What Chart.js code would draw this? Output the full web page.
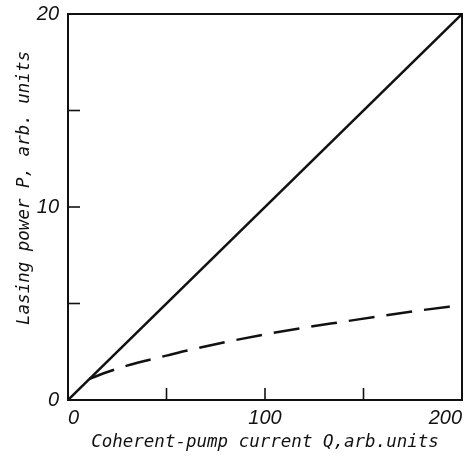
<!DOCTYPE html>
<html>
<head>
<meta charset="utf-8">
<script src="https://cdn.jsdelivr.net/npm/chart.js@4"></script>
<style>
  html, body { margin: 0; padding: 0; background: #fff; }
  #wrap { width: 470px; height: 458px; }
</style>
</head>
<body>
<div id="wrap"><canvas id="myChart" width="470" height="458"></canvas></div>
<script>
// Straight line (solid)
const qSolid = [0, 200];
const pSolid = [0, 20];

// Dashed curve, values
const qDashed = [11, 20, 30, 40, 50, 60, 80, 100, 120, 140, 160, 180, 200];
const pDashed = [1.1, 1.45, 1.78, 2.05, 2.3, 2.55, 3.0, 3.4, 3.75, 4.06, 4.37, 4.66, 4.92];

const xTitle = 'Coherent-pump current Q,arb.units';
const yTitle = 'Lasing power P, arb. units';

const ink = '#111';
const tickFont = { family: '"Liberation Sans", sans-serif', size: 20, style: 'italic' };
const titleFont = 'italic 17.5px "DejaVu Sans Mono", monospace';

// Cadre, graduations vers l'intérieur et titres des axes
const framePlugin = {
    id: 'frame',
    afterDatasetsDraw(chart) {
        const ctx = chart.ctx;
        const a = chart.chartArea;
        ctx.save();
        ctx.strokeStyle = ink;
        ctx.lineWidth = 2;
        ctx.strokeRect(a.left, a.top, a.right - a.left, a.bottom - a.top);

        ctx.lineWidth = 1.6;
        const xs = chart.scales.x;
        xs.ticks.forEach(t => {
            const px = xs.getPixelForValue(t.value);
            if (px <= a.left + 1 || px >= a.right - 1) return;
            ctx.beginPath();
            ctx.moveTo(px, a.bottom);
            ctx.lineTo(px, a.bottom - 12);
            ctx.stroke();
        });
        const ys = chart.scales.y;
        ys.ticks.forEach(t => {
            const py = ys.getPixelForValue(t.value);
            if (py <= a.top + 1 || py >= a.bottom - 1) return;
            ctx.beginPath();
            ctx.moveTo(a.left, py);
            ctx.lineTo(a.left + 12, py);
            ctx.stroke();
        });

        ctx.fillStyle = ink;
        ctx.font = titleFont;
        ctx.textAlign = 'center';
        ctx.textBaseline = 'alphabetic';
        ctx.fillText(xTitle, (a.left + a.right) / 2, 447);

        ctx.translate(29, 188);
        ctx.rotate(-Math.PI / 2);
        ctx.fillText(yTitle, 0, 0);
        ctx.restore();
    }
};

const ctx = document.getElementById('myChart').getContext('2d');
const myChart = new Chart(ctx, {
    type: 'line',
    data: {
        datasets: [
            {
                label: 'solid',
                data: qSolid.map((q, i) => ({ x: q, y: pSolid[i] })),
                borderColor: ink,
                borderWidth: 2.5,
                pointRadius: 0,
                fill: false
            },
            {
                label: 'dashed',
                data: qDashed.map((q, i) => ({ x: q, y: pDashed[i] })),
                borderColor: ink,
                borderWidth: 2.5,
                borderDash: [26, 12],
                pointRadius: 0,
                cubicInterpolationMode: 'monotone',
                fill: false
            }
        ]
    },
    options: {
        responsive: false,
        animation: false,
        layout: { padding: { top: 14, right: 8, left: 0, bottom: 0 } },
        plugins: {
            legend: { display: false },
            tooltip: { enabled: false }
        },
        scales: {
            x: {
                type: 'linear',
                min: 0,
                max: 200,
                border: { display: false },
                grid: { display: false, drawTicks: false },
                ticks: {
                    stepSize: 50,
                    align: 'inner',
                    padding: 6,
                    color: ink,
                    font: tickFont,
                    maxRotation: 0,
                    callback: v => (v % 100 === 0 ? v : '')
                },
                afterFit(scale) {
                    scale.height = 58;
                    scale.paddingLeft = 0;
                    scale.paddingRight = 0;
                }
            },
            y: {
                type: 'linear',
                min: 0,
                max: 20,
                border: { display: false },
                grid: { display: false, drawTicks: false },
                ticks: {
                    stepSize: 5,
                    padding: 9,
                    color: ink,
                    font: tickFont,
                    callback: v => (v % 10 === 0 ? v : '')
                },
                afterFit(scale) {
                    scale.width = 68;
                    scale.paddingTop = 0;
                    scale.paddingBottom = 0;
                }
            }
        }
    },
    plugins: [framePlugin]
});
</script>
</body>
</html>
